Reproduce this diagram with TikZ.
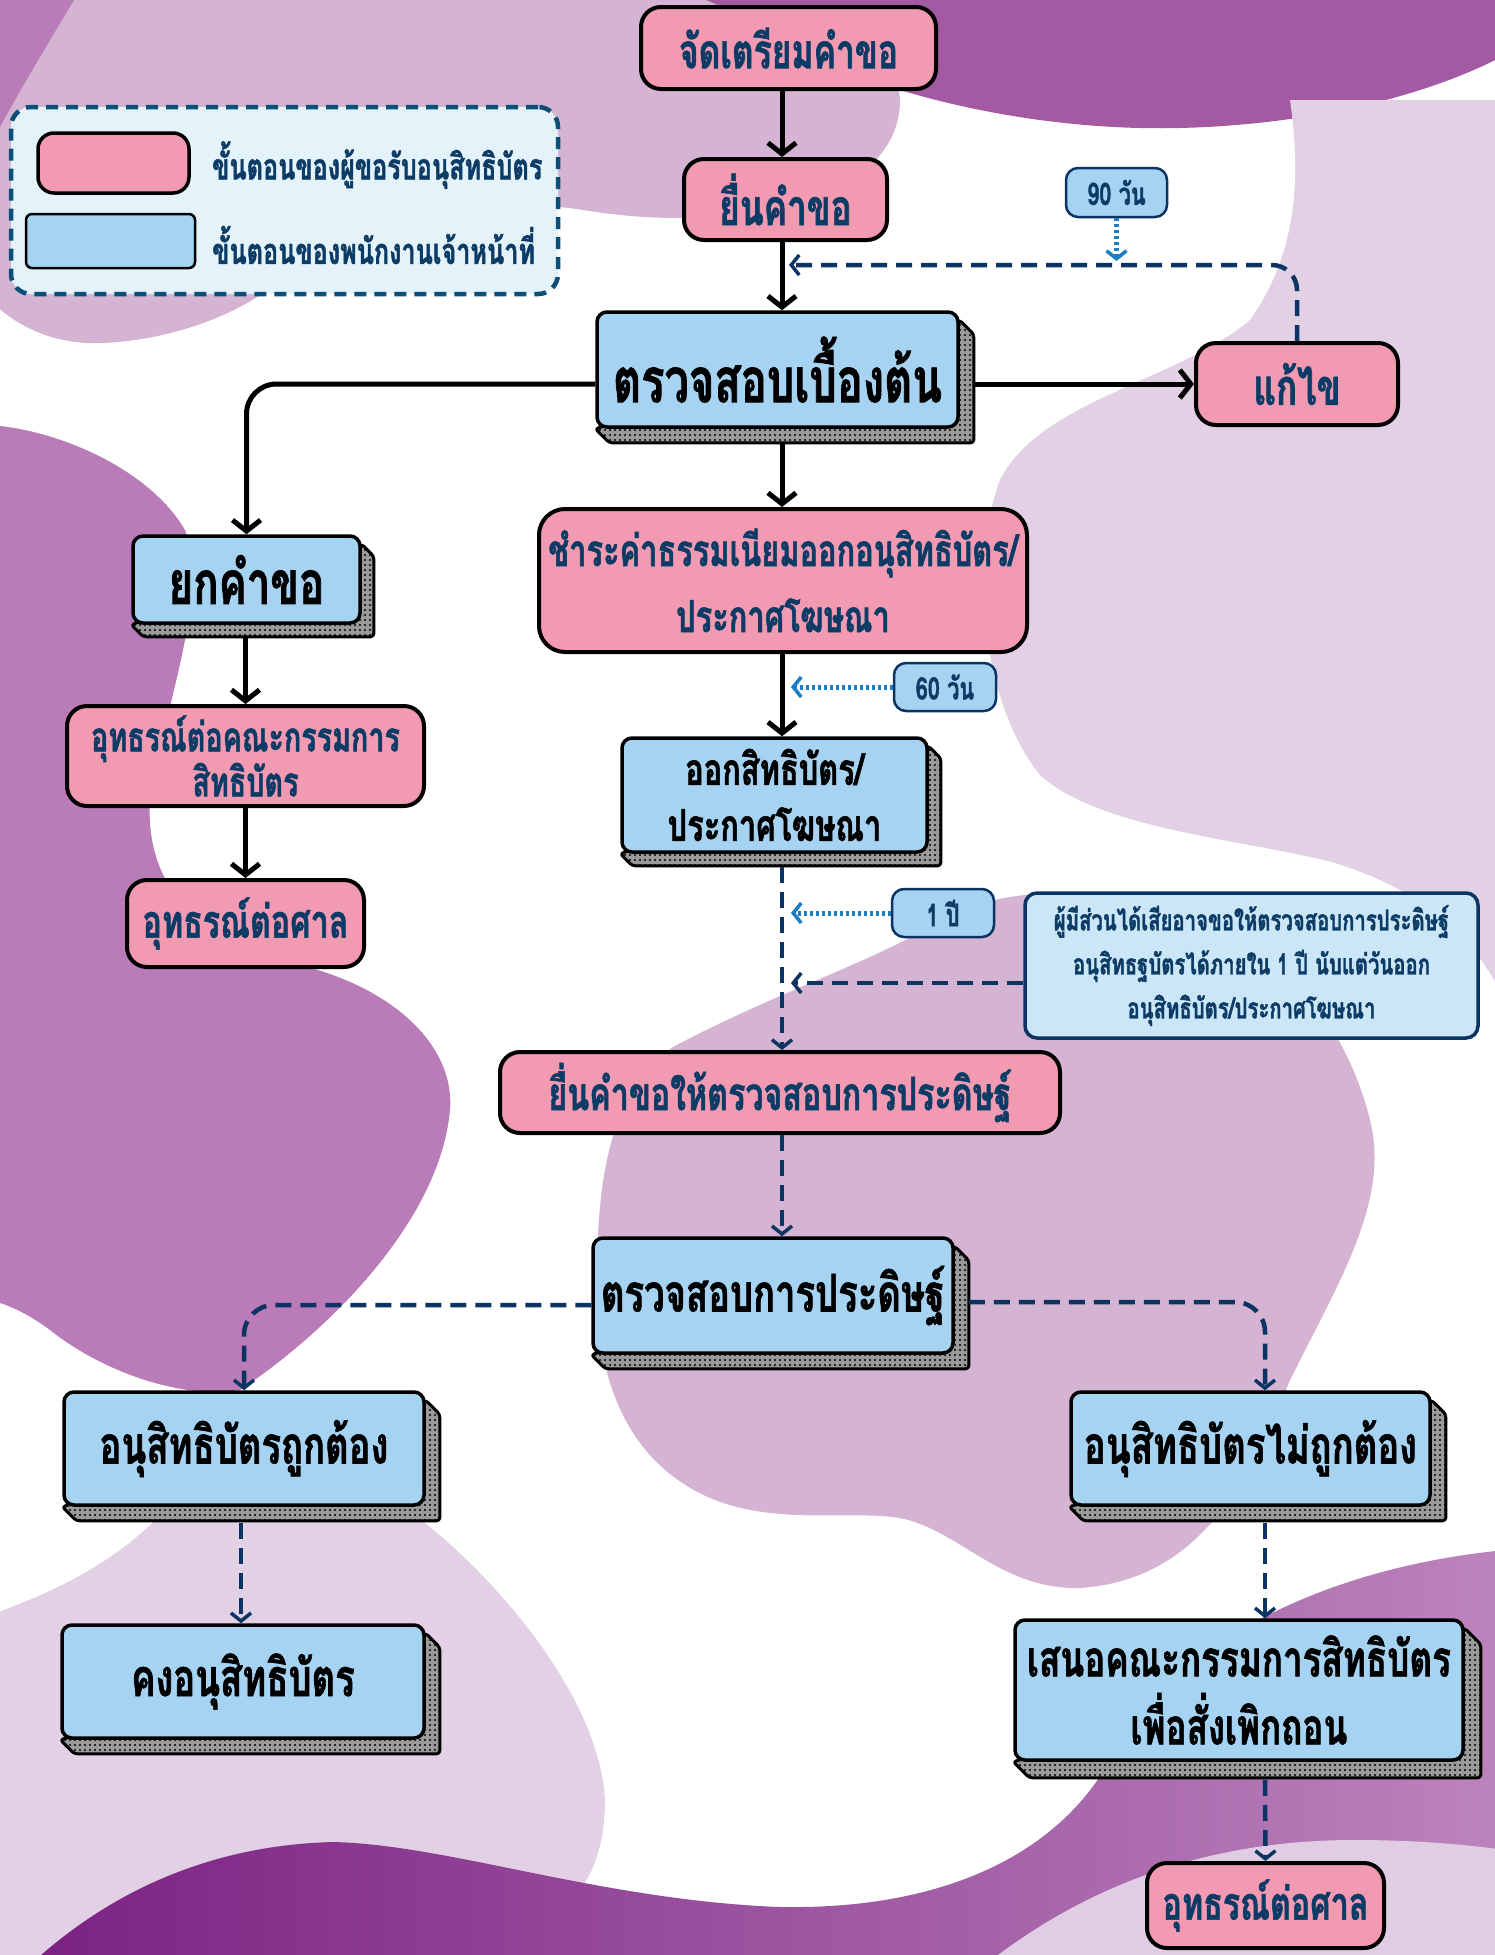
\documentclass[tikz,border=0pt]{standalone}
\usepackage{fontspec}
\newfontfamily\thaifont[Script=Thai,FakeStretch=0.7,FakeBold=1.2]{Loma}
\usetikzlibrary{arrows.meta,patterns.meta,calc}
\definecolor{pinkc}{HTML}{F29AB2}
\definecolor{bluec}{HTML}{A6D3F1}
\definecolor{navy}{HTML}{0C3C66}
\definecolor{navyline}{HTML}{0B3462}
\definecolor{dotblue}{HTML}{1A7EC2}
\definecolor{legborder}{HTML}{0B4E77}
\definecolor{legfill}{HTML}{E4F2F9}
\definecolor{notefill}{HTML}{CBE6F7}
\definecolor{lavA}{HTML}{B97CB8}
\definecolor{lavB}{HTML}{D5B3D3}
\definecolor{lavC}{HTML}{E2D0E5}
\definecolor{deepP}{HTML}{A459A3}
\definecolor{gradL}{HTML}{7B2283}
\definecolor{gradR}{HTML}{BC84BC}
\definecolor{shgray}{HTML}{9A9A9A}
\newcommand\tf[2]{\thaifont\bfseries\fontsize{#1}{#2}\selectfont}
\newcommand\ct[2][]{#2}
\pgfdeclarelayer{blobs}
\pgfdeclarelayer{shadows}
\pgfsetlayers{blobs,shadows,main}
\newcommand\extr[2][14]{%
 \begin{pgfonlayer}{shadows}
 \path[shadowshape] ($(#2.north east)+(0,10)$) -- ($(#2.north east)+(#1,10+#1)$) -- ($(#2.south east)+(#1,#1)$) -- ($(#2.south west)+(#1,#1)$) -- (#2.south west) -- cycle;
 \end{pgfonlayer}}
\tikzset{
 shadowshape/.style={preaction={fill=shgray}, pattern={Dots[distance=5pt,radius=1.1pt]}, pattern color=black, draw=black, line width=3pt, rounded corners=3pt, line join=round},
 pinkbox/.style={draw=black, line width=4pt, fill=pinkc, rounded corners=20pt, inner sep=0pt, align=center, text=navy},
 bluebox/.style={draw=black, line width=3.5pt, fill=bluec, rounded corners=10pt, inner sep=0pt, align=center, text=black},
 tagbox/.style={draw=navyline, line width=2.5pt, fill=bluec, rounded corners=12pt, inner sep=0pt, align=center, text=navy, font=\tf{31}{36}},
 solidarr/.style={line width=5pt, draw=black, -{Straight Barb[length=11pt,width=28pt,line width=5pt]}},
 dasharr/.style={line width=4.5pt, draw=navyline, dash pattern=on 16pt off 9pt, -{Straight Barb[length=8pt,width=20pt,line width=3.5pt]}},
 dotarr/.style={line width=5pt, draw=dotblue, dash pattern=on 3pt off 3pt, -{Straight Barb[length=8pt,width=20pt,line width=3.5pt]}},
}
\begin{document}
\begin{tikzpicture}[x=1pt,y=-1pt]
\useasboundingbox (0,0) rectangle (1495,1955);
% ---------- background blobs ----------
\begin{pgfonlayer}{blobs}
\begin{scope}
\clip (0,0) rectangle (1495,1955);
\fill[white] (0,0) rectangle (1495,1955);
% top-left medium lavender
\fill[lavB] (-10,-10) -- (690,-10) .. controls (800,20) and (900,60) .. (900,100) .. controls (900,170) and (820,218) .. (680,218) .. controls (620,218) and (590,210) .. (560,207) -- (300,260) .. controls (250,320) and (150,345) .. (86,343) .. controls (40,340) and (10,320) .. (-10,300) -- cycle;
% top-left dark strip
\fill[lavA] (-10,-10) -- (80,-10) .. controls (50,40) and (20,90) .. (0,127) -- (-10,130) -- cycle;
% top-right deep purple
\fill[deepP] (682,-10) .. controls (780,30) and (860,70) .. (900,90) .. controls (1000,120) and (1100,130) .. (1180,128) .. controls (1300,125) and (1420,100) .. (1505,55) -- (1505,-10) -- cycle;
% right light lavender
\fill[lavC] (1290,100) .. controls (1300,170) and (1300,250) .. (1250,320) .. controls (1180,380) and (1040,400) .. (1000,480) .. controls (970,560) and (980,700) .. (1040,775) .. controls (1100,830) and (1250,840) .. (1335,863) .. controls (1420,890) and (1470,930) .. (1505,1000) -- (1505,100) -- cycle;
% middle medium lavender
\fill[lavB] (673,1047) .. controls (610,1090) and (595,1180) .. (597,1300) .. controls (600,1400) and (640,1470) .. (715,1500) .. controls (780,1525) and (850,1510) .. (900,1518) .. controls (960,1530) and (1000,1590) .. (1080,1588) .. controls (1200,1580) and (1250,1480) .. (1290,1380) .. controls (1340,1280) and (1390,1200) .. (1370,1120) .. controls (1350,1040) and (1300,960) .. (1200,920) .. controls (1100,880) and (1000,890) .. (950,915) .. controls (880,960) and (780,990) .. (673,1047) -- cycle;
% left dark blob
\fill[lavA] (-10,425) .. controls (60,430) and (150,470) .. (185,530) .. controls (210,600) and (160,720) .. (150,800) .. controls (145,880) and (190,940) .. (300,965) .. controls (400,990) and (455,1050) .. (450,1110) .. controls (440,1220) and (330,1330) .. (240,1390) .. controls (180,1400) and (100,1370) .. (50,1330) .. controls (30,1315) and (10,1305) .. (-10,1300) -- cycle;
% lower-left light lavender
\fill[lavC] (-10,1615) .. controls (60,1590) and (120,1560) .. (170,1505) -- (415,1515) .. controls (500,1580) and (600,1700) .. (605,1800) .. controls (605,1850) and (590,1880) .. (572,1900) -- (572,1965) -- (-10,1965) -- cycle;
% bottom gradient band and bottom-right blob
\shade[left color=gradL, right color=gradR] (30,1965) .. controls (100,1900) and (200,1845) .. (334,1842) .. controls (450,1845) and (600,1900) .. (780,1907) .. controls (950,1910) and (1060,1850) .. (1110,1760) .. controls (1160,1660) and (1300,1570) .. (1505,1550) -- (1505,1965) -- cycle;
% bottom-right light lavender
\fill[lavC!90!lavB] (985,1965) .. controls (1080,1890) and (1200,1840) .. (1354,1840) .. controls (1420,1840) and (1470,1845) .. (1505,1850) -- (1505,1965) -- cycle;
\end{scope}
\end{pgfonlayer}
% ---------- legend ----------
\node[draw=legborder, line width=4.5pt, dash pattern=on 12pt off 8pt, fill=legfill, rounded corners=20pt, minimum width=547pt, minimum height=187pt, inner sep=0pt] (legend) at (284.5,200.5) {};
\node[pinkbox, line width=3.5pt, rounded corners=16pt, minimum width=151pt, minimum height=60pt] (lgpink) at (113.5,163) {};
\node[bluebox, line width=2.5pt, rounded corners=6pt, minimum width=169pt, minimum height=54pt] (lgblue) at (110.5,241) {};
\extr[7]{lgblue}
\node[anchor=west, inner sep=0pt, text=navy, font=\tf{36}{40}] (lgt1) at (212,165) {\ct[2.5pt]{ขั้นตอนของผู้ขอรับอนุสิทธิบัตร}};
\node[anchor=west, inner sep=0pt, text=navy, font=\tf{36}{40}] (lgt2) at (212,245) {\ct[2.5pt]{ขั้นตอนของพนักงานเจ้าหน้าที่}};
% ---------- main nodes ----------
\node[pinkbox, minimum width=295pt, minimum height=82pt, font=\tf{48}{56}] (prep) at (788.5,48) {\ct{จัดเตรียมคำขอ}};
\node[pinkbox, minimum width=203pt, minimum height=81pt, font=\tf{50}{58}] (submit) at (785.5,199.5) {\ct{ยื่นคำขอ}};
\node[bluebox, minimum width=361pt, minimum height=115pt, font=\tf{62}{70}] (check1) at (777.5,369.5) {\ct{ตรวจสอบเบื้องต้น}};
\extr{check1}
\node[pinkbox, minimum width=202pt, minimum height=82pt, font=\tf{50}{58}] (fix) at (1297,384) {\ct{แก้ไข}};
\node[bluebox, minimum width=227pt, minimum height=87pt, font=\tf{60}{68}] (withdraw) at (246.5,579.5) {\ct{ยกคำขอ}};
\extr[12]{withdraw}
\node[pinkbox, rounded corners=26pt, minimum width=488pt, minimum height=143pt, font=\tf{44}{66}] (pay) at (783,580.5) {\ct{ชำระค่าธรรมเนียมออกอนุสิทธิบัตร/}\\\ct{ประกาศโฆษณา}};
\node[tagbox, minimum width=102pt, minimum height=48pt] (d60) at (945,687) {\ct[2pt]{60 วัน}};
\node[pinkbox, minimum width=357pt, minimum height=100pt, font=\tf{41}{45}] (appeal1) at (245.5,756) {\ct{อุทธรณ์ต่อคณะกรรมการ}\\\ct{สิทธิบัตร}};
\node[bluebox, minimum width=305pt, minimum height=114pt, font=\tf{44}{56}] (issue) at (774.5,795) {\ct{ออกสิทธิบัตร/}\\\ct{ประกาศโฆษณา}};
\extr[12]{issue}
\node[pinkbox, minimum width=237pt, minimum height=87pt, font=\tf{46}{54}] (court1) at (245.5,923.5) {\ct{อุทธรณ์ต่อศาล}};
\node[tagbox, minimum width=102pt, minimum height=48pt] (y1) at (943,913) {\ct[2pt]{1 ปี}};
\node[draw=navyline, line width=3.5pt, fill=notefill, rounded corners=12pt, minimum width=453pt, minimum height=145pt, inner sep=0pt, align=center, text=navy, font=\tf{29}{44}] (note) at (1251.5,965.5) {\ct[2pt]{ผู้มีส่วนได้เสียอาจขอให้ตรวจสอบการประดิษฐ์}\\\ct[2pt]{อนุสิทธฐบัตรได้ภายใน 1 ปี นับแต่วันออก}\\\ct[2pt]{อนุสิทธิบัตร/ประกาศโฆษณา}};
\node[pinkbox, minimum width=560pt, minimum height=81pt, font=\tf{46}{54}] (request) at (780,1092.5) {\ct{ยื่นคำขอให้ตรวจสอบการประดิษฐ์}};
\node[bluebox, minimum width=360pt, minimum height=115pt, font=\tf{52}{60}] (exam) at (773,1295.5) {\ct{ตรวจสอบการประดิษฐ์}};
\extr{exam}
\node[bluebox, minimum width=360pt, minimum height=113pt, font=\tf{52}{60}] (valid) at (244,1448.5) {\ct{อนุสิทธิบัตรถูกต้อง}};
\extr{valid}
\node[bluebox, minimum width=359pt, minimum height=113pt, font=\tf{52}{60}] (invalid) at (1250.5,1448.5) {\ct{อนุสิทธิบัตรไม่ถูกต้อง}};
\extr{invalid}
\node[bluebox, minimum width=362pt, minimum height=113pt, font=\tf{52}{60}] (keep) at (243,1681.5) {\ct{คงอนุสิทธิบัตร}};
\extr{keep}
\node[bluebox, minimum width=448pt, minimum height=140pt, font=\tf{50}{68}] (propose) at (1239,1690) {\ct{เสนอคณะกรรมการสิทธิบัตร}\\\ct{เพื่อสั่งเพิกถอน}};
\extr[16]{propose}
\node[pinkbox, minimum width=237pt, minimum height=85pt, font=\tf{46}{54}] (court2) at (1265.5,1905.5) {\ct{อุทธรณ์ต่อศาล}};
\node[tagbox, minimum width=101pt, minimum height=49pt] (d90) at (1116.5,192.5) {\ct[2pt]{90 วัน}};
% ---------- helper coordinates ----------
\coordinate (ax) at (782,0);
\coordinate (bx) at (1265,0);
\coordinate (fb) at (789,265);
\coordinate (tx) at (791,0);
% ---------- connectors ----------
\draw[solidarr] (prep.south -| ax) -- (submit.north -| ax);
\draw[solidarr] (submit.south -| ax) -- (check1.north -| ax);
\draw[solidarr] ($(check1.east |- fix.west)+(14,0)$) -- (fix.west);
\draw[solidarr, rounded corners=30pt] (check1.west |- fix.west) -| (withdraw.north);
\draw[solidarr] ($(check1.south -| ax)+(0,14)$) -- (pay.north -| ax);
\draw[solidarr] ($(withdraw.south -| appeal1.north)+(0,12)$) -- (appeal1.north);
\draw[solidarr] (appeal1.south) -- (court1.north);
\draw[solidarr] (pay.south -| ax) -- (issue.north -| ax);
\draw[dasharr] ($(issue.south -| ax)+(0,13)$) -- (request.north -| ax);
\draw[dasharr, rounded corners=25pt] (fix.north) |- (fb);
\draw[dotarr] (d90.south) -- ($(d90.south |- fb)+(0,-4)$);
\draw[dotarr] (d60.west) -- (d60.west -| tx);
\draw[dotarr] (y1.west) -- (y1.west -| tx);
\draw[dasharr] ($(note.west)+(0,17.5)$) -- ($(note.west -| tx)+(0,17.5)$);
\draw[dasharr] (request.south -| ax) -- (exam.north -| ax);
\draw[dasharr, rounded corners=30pt] ($(exam.west)+(0,9.5)$) -| (valid.north);
\draw[dasharr, rounded corners=30pt] ($(exam.east)+(14,6.5)$) -| (invalid.north -| bx);
\draw[dasharr] ($(valid.south)+(-3,16)$) -- ($(valid.south |- keep.north)+(-3,0)$);
\draw[dasharr] ($(invalid.south -| bx)+(0,16)$) -- (propose.north -| bx);
\draw[dasharr] ($(propose.south -| bx)+(0,18)$) -- (court2.north);
\end{tikzpicture}
\end{document}
